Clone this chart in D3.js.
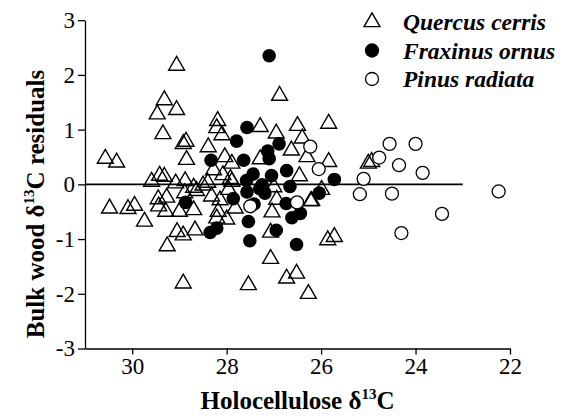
<!DOCTYPE html>
<html>
<head>
<meta charset="utf-8">
<script src="https://cdn.jsdelivr.net/npm/d3@7"></script>
<style>
  body { margin: 0; background: #fff; }
  svg text { font-family: "Liberation Serif", "Times New Roman", serif; }
</style>
</head>
<body>
<svg id="chart" width="566" height="417"></svg>
<script>
'use strict';

// Quercus cerris: [holocellulose d13C, bulk wood residual]
var quercus = [
    [29.06, 2.17], [26.88, 1.62], [29.32, 1.54], [29.06, 1.36], [29.47, 1.28],
    [25.84, 1.11], [28.19, 1.16], [28.21, 1.03], [27.29, 1.05], [26.50, 1.07],
    [29.35, 0.92], [28.10, 0.90], [26.95, 0.93], [26.40, 0.84], [28.86, 0.78],
    [28.92, 0.74], [28.39, 0.68], [26.63, 0.62], [28.04, 0.50], [28.85, 0.45],
    [27.29, 0.46], [26.30, 0.50], [25.84, 0.41], [27.89, 0.38], [30.57, 0.47],
    [30.33, 0.40], [25.00, 0.38], [24.93, 0.41], [28.28, 0.26], [28.08, 0.17],
    [29.59, 0.05], [29.42, 0.16], [29.32, 0.14], [29.08, 0.02], [28.88, 0.06],
    [28.70, -0.06], [28.64, -0.12], [28.40, 0.03], [27.92, 0.10], [27.89, 0.05],
    [28.50, -0.02], [26.46, 0.15], [26.20, -0.30], [25.99, -0.10], [27.00, -0.05],
    [26.94, -0.28], [30.48, -0.44], [30.09, -0.45], [29.95, -0.39], [29.45, -0.27],
    [29.27, -0.24], [29.44, -0.40], [29.29, -0.50], [29.00, -0.50], [28.70, -0.47],
    [28.89, -0.16], [29.74, -0.68], [29.05, -0.87], [28.92, -0.93], [28.67, -0.84],
    [29.26, -1.13], [28.92, -1.81], [28.32, -0.22], [28.14, -0.29], [27.96, -0.10],
    [27.82, -0.44], [28.21, -0.62], [28.00, -0.64], [28.18, -0.50], [27.04, -0.51],
    [27.07, -0.88], [27.07, -1.36], [27.54, -1.84], [26.73, -1.72], [26.52, -1.63],
    [26.27, -2.00], [25.86, -1.02], [25.72, -0.96], [26.22, -0.31]
];

// Fraxinus ornus
var fraxinus = [
    [27.10, 2.35], [27.57, 1.04], [27.79, 0.79], [26.89, 0.74], [27.13, 0.61],
    [27.10, 0.47], [28.33, 0.44], [27.64, 0.44], [26.73, 0.25], [27.44, 0.19],
    [27.05, 0.16], [27.58, 0.07], [25.72, 0.09], [27.25, -0.01], [27.19, -0.16],
    [27.57, -0.14], [26.66, -0.04], [27.30, -0.08], [27.86, -0.26], [27.42, -0.36],
    [26.74, -0.35], [26.04, -0.16], [28.87, -0.33], [26.62, -0.61], [26.44, -0.53],
    [26.95, -0.84], [27.54, -0.68], [28.35, -0.88], [28.21, -0.80], [27.51, -1.03],
    [26.52, -1.10]
];

// Pinus radiata
var pinus = [
    [24.55, 0.74], [24.00, 0.74], [24.77, 0.49], [24.35, 0.35], [23.85, 0.21],
    [25.10, 0.10], [25.18, -0.18], [24.50, -0.17], [23.44, -0.54], [24.30, -0.89],
    [22.24, -0.13], [26.23, 0.69], [26.05, 0.28], [26.51, -0.33], [27.50, -0.40]
];

var xTicks = [30, 28, 26, 24, 22];
var yTicks = [-3, -2, -1, 0, 1, 2, 3];
var legendNames = ['Quercus cerris', 'Fraxinus ornus', 'Pinus radiata'];

var svg = d3.select('#chart');

var x = d3.scaleLinear().domain([31, 22]).range([85, 510]);
var y = d3.scaleLinear().domain([-3, 3]).range([348.5, 20.2]);
var plain = function(d) { return String(d); };

// X Axis
var xAxis = svg.append('g')
    .attr('transform', 'translate(0,' + y(-3) + ')')
    .call(d3.axisBottom(x).tickValues(xTicks).tickFormat(plain)
        .tickSize(6).tickSizeOuter(0).tickPadding(3));
xAxis.selectAll('text')
    .attr('fill', '#000')
    .style('font-size', '23px');

// Y Axis
var yAxis = svg.append('g')
    .attr('transform', 'translate(' + x(31) + ',0)')
    .call(d3.axisLeft(y).tickValues(yTicks).tickFormat(plain)
        .tickSize(7).tickSizeOuter(0).tickPadding(3));
yAxis.selectAll('text')
    .attr('fill', '#000')
    .style('font-size', '23px');
svg.selectAll('.domain, .tick line')
    .attr('stroke', '#000')
    .attr('stroke-width', 1.3);

// zero line
svg.append('line')
    .attr('x1', x(31)).attr('x2', x(23))
    .attr('y1', y(0)).attr('y2', y(0))
    .attr('stroke', '#000')
    .attr('stroke-width', 1.6);

// Axis titles
var xTitle = svg.append('text')
    .attr('x', (x(31) + x(22)) / 2)
    .attr('y', 409)
    .attr('text-anchor', 'middle')
    .style('font-size', '25px')
    .style('font-weight', 'bold');
xTitle.append('tspan').text('Holocellulose \u03b4');
xTitle.append('tspan').attr('dy', -10).style('font-size', '15px').text('13');
xTitle.append('tspan').attr('dy', 10).text('C');

var yTitle = svg.append('text')
    .attr('transform', 'translate(44,204) rotate(-90)')
    .attr('text-anchor', 'middle')
    .style('font-size', '25px')
    .style('font-weight', 'bold');
yTitle.append('tspan').text('Bulk wood \u03b4');
yTitle.append('tspan').attr('dy', -10).style('font-size', '15px').text('13');
yTitle.append('tspan').attr('dy', 10).text('C residuals');

var tri = d3.symbol().type(d3.symbolTriangle).size(110);

// Triangles
svg.append('g').selectAll('path')
    .data(quercus)
    .enter().append('path')
    .attr('d', tri)
    .attr('transform', function(d) { return 'translate(' + x(d[0]) + ',' + y(d[1]) + ')'; })
    .attr('fill', 'none')
    .attr('stroke', '#000')
    .attr('stroke-width', 1.4);

// Filled circles
svg.append('g').selectAll('circle')
    .data(fraxinus)
    .enter().append('circle')
    .attr('cx', function(d) { return x(d[0]); })
    .attr('cy', function(d) { return y(d[1]); })
    .attr('r', 6.8)
    .attr('fill', '#000');

// Open circles
svg.append('g').selectAll('circle')
    .data(pinus)
    .enter().append('circle')
    .attr('cx', function(d) { return x(d[0]); })
    .attr('cy', function(d) { return y(d[1]); })
    .attr('r', 6.5)
    .attr('fill', '#fff')
    .attr('stroke', '#000')
    .attr('stroke-width', 1.3);

// Legend
var legend = svg.append('g');
legendNames.forEach(function(name, i) {
    var ly = 22 + i * 28.5;
    if (i === 0) {
        legend.append('path').attr('d', tri)
            .attr('transform', 'translate(372,' + ly + ')')
            .attr('fill', 'none').attr('stroke', '#000').attr('stroke-width', 1.4);
    } else {
        legend.append('circle').attr('cx', 372).attr('cy', ly).attr('r', 6.5)
            .attr('fill', i === 1 ? '#000' : '#fff')
            .attr('stroke', '#000').attr('stroke-width', 1.3);
    }
    legend.append('text')
        .attr('x', 403).attr('y', ly + 8)
        .style('font-size', '23.5px')
        .style('font-weight', 'bold')
        .style('font-style', 'italic')
        .text(name);
});
</script>
</body>
</html>
